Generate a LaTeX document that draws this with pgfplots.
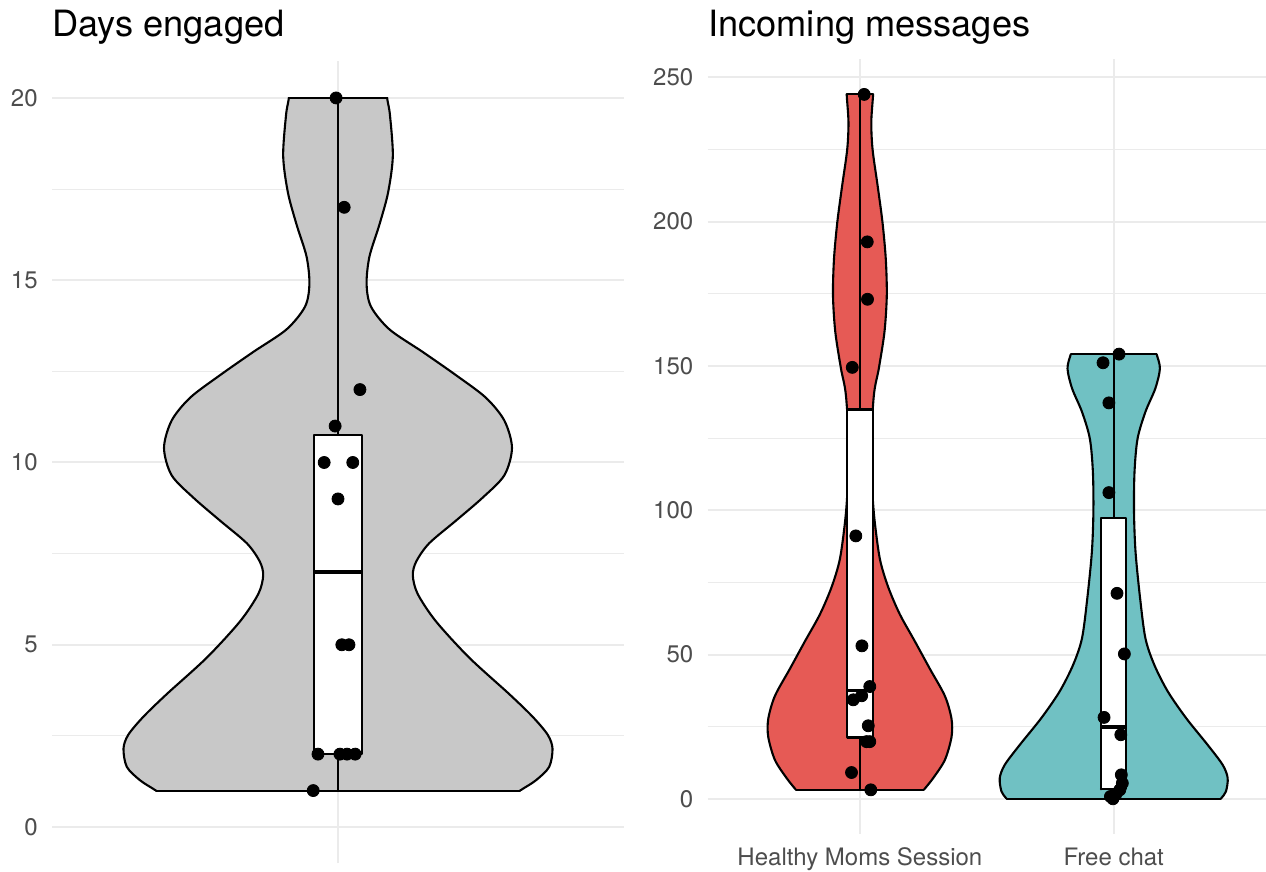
\documentclass[border=0pt]{standalone}
\usepackage{fontspec}
\setmainfont{TeX Gyre Heros}
\usepackage{pgfplots}
\pgfplotsset{compat=1.18}
\definecolor{vgray}{HTML}{C8C8C8}
\definecolor{vred}{HTML}{E65A55}
\definecolor{vteal}{HTML}{70C1C3}
\definecolor{gridc}{HTML}{EBEBEB}
\definecolor{ticklab}{HTML}{4D4D4D}
\pgfplotsset{
  vstyle/.style={
    scale only axis, anchor=south west,
    axis line style={draw=none}, tick style={draw=none},
    major tick length=0pt, minor tick length=0pt,
    xmajorgrids, ymajorgrids, yminorgrids,
    major grid style={gridc, line width=1pt},
    minor grid style={gridc, line width=0.5pt},
    tick label style={font=\fontsize{12}{14}\selectfont, text=ticklab},
    /pgf/number format/assume math mode=true,
    yticklabel style={anchor=east, inner sep=0pt, xshift=-7pt},
    xticklabel style={anchor=base, inner sep=0pt, yshift=-16pt},
  },
  vline/.style={draw=black, line width=1.05pt, line join=round, line cap=round},
  pts/.style={only marks, mark=*, mark size=3pt, black, mark options={draw=black, fill=black}},
}
\begin{document}
\begin{tikzpicture}
\path[use as bounding box] (0,0) rectangle (633pt,436pt);
% ---------------- Left panel ----------------
\begin{axis}[vstyle, at={(26pt,4.25pt)}, width=286pt, height=401pt,
  xmin=0.4, xmax=1.6, ymin=-1, ymax=21,
  xtick={1}, xticklabels={}, ytick={0,5,10,15,20}, minor ytick={2.5,7.5,12.5,17.5}]
\begin{scope}
\clip (0.4,1) rectangle (1.6,20);
\addplot[vline, fill=vgray, smooth] coordinates {
 (0.675,0.5)
 (0.618,1.0) (0.585,1.28) (0.557,1.65) (0.550,2.15) (0.560,2.53) (0.592,3.03)
 (0.641,3.65) (0.725,4.65) (0.795,5.65) (0.833,6.4) (0.843,6.9) (0.836,7.28)
 (0.809,7.78) (0.753,8.4) (0.697,9.03) (0.651,9.65) (0.635,10.4) (0.651,11.15)
 (0.690,11.78) (0.753,12.4) (0.822,13.03) (0.892,13.65) (0.931,14.28) (0.940,14.9)
 (0.934,15.65) (0.913,16.53) (0.895,17.4) (0.885,18.4) (0.891,19.53) (0.897,20)
 (0.905,20.8)
 (1.095,20.8)
 (1.103,20) (1.109,19.53) (1.115,18.4) (1.105,17.4) (1.087,16.53) (1.066,15.65)
 (1.060,14.9) (1.069,14.28) (1.108,13.65) (1.178,13.03) (1.247,12.4) (1.310,11.78)
 (1.349,11.15) (1.365,10.4) (1.349,9.65) (1.303,9.03) (1.247,8.4) (1.191,7.78)
 (1.164,7.28) (1.157,6.9) (1.167,6.4) (1.205,5.65) (1.275,4.65) (1.359,3.65)
 (1.408,3.03) (1.440,2.53) (1.450,2.15) (1.443,1.65) (1.415,1.28) (1.382,1.0)
 (1.325,0.5)};
\end{scope}
\addplot[vline] coordinates {(0.618,1.0) (1.382,1.0)};
\addplot[vline] coordinates {(0.897,20) (1.103,20)};
% box
\addplot[vline] coordinates {(1,10.75) (1,20)};
\addplot[vline] coordinates {(1,2) (1,1)};
\addplot[vline, fill=white] coordinates {(0.95,2) (1.05,2) (1.05,10.75) (0.95,10.75) (0.95,2)};
\addplot[draw=black, line width=1.9pt] coordinates {(0.95,7) (1.05,7)};
% points
\addplot[pts] coordinates {
 (0.996,20) (1.013,17) (1.046,12) (0.994,11) (0.971,10) (1.031,10) (1.0,9)
 (1.008,5) (1.023,5) (0.958,2) (1.004,2) (1.019,2) (1.036,2) (0.948,1)};
\end{axis}
% ---------------- Right panel ----------------
\begin{axis}[vstyle, at={(353.8pt,19pt)}, width=279.2pt, height=387.25pt,
  xmin=0.4, xmax=2.6, ymin=-12.2, ymax=256.2,
  xtick={1,2}, xticklabels={Healthy Moms Session, Free chat},
  ytick={0,50,100,150,200,250}, minor ytick={25,75,125,175,225}]
% red violin
\begin{scope}
\clip (0.4,3.1) rectangle (1.5,244.1);
\addplot[vline, fill=vred, smooth] coordinates {
 (0.785,-1)
 (0.748,3.1) (0.711,7.2) (0.665,13.5) (0.639,21.4) (0.639,27.7) (0.665,35.6)
 (0.724,45) (0.783,54.5) (0.843,64) (0.889,73.5) (0.921,83) (0.941,95.6)
 (0.950,105) (0.958,120) (0.945,139.8) (0.925,149.3) (0.903,161.9) (0.894,174.5)
 (0.898,187.1) (0.911,199.8) (0.930,212.4) (0.950,225) (0.955,234.5) (0.948,244.1)
 (0.945,252)
 (1.055,252)
 (1.052,244.1) (1.045,234.5) (1.050,225) (1.070,212.4) (1.089,199.8) (1.102,187.1)
 (1.106,174.5) (1.097,161.9) (1.075,149.3) (1.055,139.8) (1.042,120) (1.050,105)
 (1.059,95.6) (1.079,83) (1.111,73.5) (1.157,64) (1.217,54.5) (1.276,45)
 (1.335,35.6) (1.361,27.7) (1.361,21.4) (1.335,13.5) (1.289,7.2) (1.252,3.1)
 (1.215,-1)};
\end{scope}
\addplot[vline] coordinates {(0.748,3.1) (1.252,3.1)};
\addplot[vline] coordinates {(0.948,244.1) (1.052,244.1)};
% teal violin
\begin{scope}
\clip (1.5,0) rectangle (2.6,154.1);
\addplot[vline, fill=vteal, smooth] coordinates {
 (1.610,-4)
 (1.578,0) (1.558,2.5) (1.551,7.2) (1.571,11.8) (1.630,18.7) (1.715,28)
 (1.787,37.2) (1.840,46.4) (1.875,55.6) (1.896,69.5) (1.914,85.6) (1.920,99.5)
 (1.918,113.3) (1.906,124.8) (1.875,134.1) (1.836,142.2) (1.818,149.1) (1.831,154.1)
 (1.845,158)
 (2.155,158)
 (2.169,154.1) (2.182,149.1) (2.164,142.2) (2.125,134.1) (2.094,124.8) (2.082,113.3)
 (2.080,99.5) (2.086,85.6) (2.104,69.5) (2.125,55.6) (2.160,46.4) (2.213,37.2)
 (2.285,28) (2.370,18.7) (2.429,11.8) (2.449,7.2) (2.442,2.5) (2.422,0)
 (2.390,-4)};
\end{scope}
\addplot[vline] coordinates {(1.578,0) (2.422,0)};
\addplot[vline] coordinates {(1.831,154.1) (2.169,154.1)};
% red box
\addplot[vline] coordinates {(1,134.9) (1,244.1)};
\addplot[vline] coordinates {(1,21.25) (1,3.1)};
\addplot[vline, fill=white] coordinates {(0.95,21.25) (1.05,21.25) (1.05,134.9) (0.95,134.9) (0.95,21.25)};
\addplot[draw=black, line width=1.9pt] coordinates {(0.95,37.5) (1.05,37.5)};
% teal box
\addplot[vline] coordinates {(2,97.2) (2,154.1)};
\addplot[vline] coordinates {(2,3.3) (2,0)};
\addplot[vline, fill=white] coordinates {(1.95,3.3) (2.05,3.3) (2.05,97.2) (1.95,97.2) (1.95,3.3)};
\addplot[draw=black, line width=1.9pt] coordinates {(1.95,25) (2.05,25)};
% points
\addplot[pts] coordinates {
 (1.017,244.1) (1.029,193) (1.030,173.1) (0.970,149.5) (0.984,91.1) (1.008,53)
 (1.039,38.9) (1.007,35.7) (0.974,34.3) (1.033,25.3) (1.026,19.8) (1.039,19.8)
 (0.967,9.1) (1.043,3.1)};
\addplot[pts] coordinates {
 (2.021,154.1) (1.958,151.1) (1.981,137.2) (1.981,106.1) (2.013,71.2) (2.042,50.2)
 (1.962,28.2) (2.028,22.2) (2.030,8.3) (2.034,5.4) (2.024,3.1) (2.008,1.5)
 (1.987,0.8) (1.997,0)};
\end{axis}
% titles
\node[anchor=base west, inner sep=0pt, font=\fontsize{18.1}{21}\selectfont] at (26pt,417.5pt) {Days engaged};
\node[anchor=base west, inner sep=0pt, font=\fontsize{18.1}{21}\selectfont] at (354pt,417.5pt) {Incoming messages};
\end{tikzpicture}
\end{document}
